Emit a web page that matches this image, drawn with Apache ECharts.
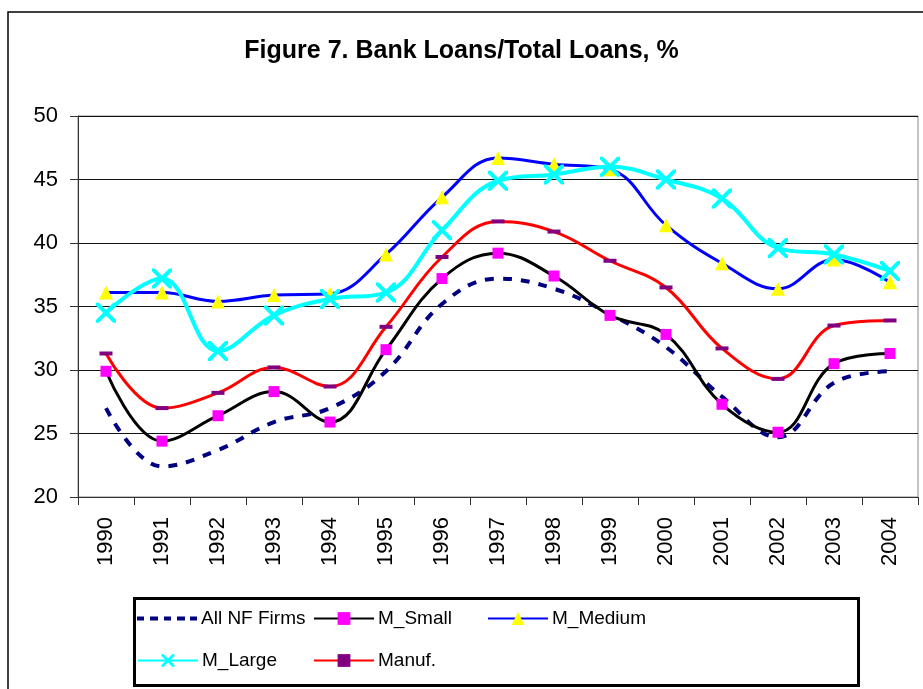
<!DOCTYPE html>
<html>
<head>
<meta charset="utf-8">
<script src="https://cdn.jsdelivr.net/npm/echarts@6/dist/echarts.min.js"></script>
<style>
  html, body { margin: 0; padding: 0; background: #fff; }
  #main { width: 923px; height: 689px; }
</style>
</head>
<body>
<div id="main"></div>
<script>
var years = ['1990','1991','1992','1993','1994','1995','1996','1997','1998','1999','2000','2001','2002','2003','2004'];
var allNF   = [27.0, 22.4, 23.7, 25.9, 27.0, 29.9, 35.2, 37.2, 36.4, 34.4, 31.8, 27.9, 24.7, 29.0, 29.9];
var mSmall  = [29.9, 24.4, 26.4, 28.3, 25.9, 31.6, 37.2, 39.2, 37.4, 34.3, 32.8, 27.3, 25.1, 30.5, 31.3];
var mMedium = [36.1, 36.1, 35.4, 35.9, 36.0, 39.1, 43.6, 46.7, 46.2, 45.8, 41.4, 38.4, 36.4, 38.7, 36.9];
var mLarge  = [34.5, 37.2, 31.5, 34.3, 35.6, 36.1, 41.0, 44.9, 45.4, 46.0, 45.0, 43.5, 39.6, 39.1, 37.8];
var manuf   = [31.3, 27.0, 28.2, 30.2, 28.7, 33.4, 38.9, 41.7, 40.9, 38.6, 36.5, 31.7, 29.3, 33.5, 33.9];

var FONT = '"Liberation Sans", Arial, sans-serif';
// X shaped marker for M_Large
var xSymbol = 'path://M0,0L1.4,0L10,8.6L10,10L8.6,10L0,1.4Z M8.6,0L10,0L10,1.4L1.4,10L0,10L0,8.6Z';
// dashed line icon for the legend of All NF Firms
var dashIcon = 'path://M0,0h7v4h-7z M13,0h8v4h-8z M27,0h7v4h-7z M40,0h8v4h-8z M53,0h7v4h-7z';

var myChart = echarts.init(document.getElementById('main'));

function legendAt(item, left, top, h) {
    return {
        data: [item],
        left: left,
        top: top,
        itemWidth: 60,
        itemHeight: h || 16,
        itemGap: 0,
        padding: 0,
        textStyle: { fontFamily: FONT, fontSize: 19, color: '#000', padding: [0, 0, 0, -1] }
    };
}

var option = {
    backgroundColor: '#fff',
    animation: false,
    title: {
        text: 'Figure 7. Bank Loans/Total Loans, %',
        left: 'center',
        top: 34,
        textStyle: { fontFamily: FONT, fontSize: 25, fontWeight: 'bold', color: '#000' }
    },
    legend: [
        legendAt({ name: 'All NF Firms', icon: dashIcon }, 137, 609, 4),
        legendAt('M_Small', 313, 609),
        legendAt('M_Medium', 487, 609),
        legendAt('M_Large', 137, 651),
        legendAt('Manuf.', 313, 651)
    ],
    grid: {
        left: 78, right: 5, top: 116, bottom: 192,
        show: true, borderColor: '#888', borderWidth: 1
    },
    xAxis: {
        type: 'category',
        data: years,
        boundaryGap: true,
        axisLine: { lineStyle: { color: '#333', width: 1 } },
        axisTick: { show: true, length: 8, lineStyle: { color: '#333' } },
        axisLabel: { rotate: 90, margin: 20, fontFamily: FONT, fontSize: 22, color: '#000' }
    },
    yAxis: {
        type: 'value',
        min: 20, max: 50, interval: 5,
        axisLine: { show: true, lineStyle: { color: '#333', width: 1 } },
        axisTick: { show: true, length: 8, lineStyle: { color: '#333' } },
        axisLabel: { margin: 20, fontFamily: FONT, fontSize: 22, color: '#000' },
        splitLine: { lineStyle: { color: '#111', width: 1 } }
    },
    graphic: [
        { type: 'rect', shape: { x: 8, y: 12, width: 940, height: 700 },
          style: { fill: 'none', stroke: '#000', lineWidth: 1.5 }, silent: true },
        { type: 'rect', shape: { x: 134.5, y: 598.5, width: 724, height: 87 },
          style: { fill: 'none', stroke: '#000', lineWidth: 3 }, silent: true }
    ],
    series: [
        {
            name: 'All NF Firms', type: 'line', data: allNF, smooth: 0.4,
            symbol: 'none',
            itemStyle: { color: '#000080' },
            lineStyle: { color: '#000080', width: 4, type: [9, 9] },
            z: 2
        },
        {
            name: 'M_Small', type: 'line', data: mSmall, smooth: 0.4,
            symbol: 'rect', symbolSize: 11,
            itemStyle: { color: '#FF00FF' },
            lineStyle: { color: '#000', width: 3 },
            z: 3
        },
        {
            name: 'M_Medium', type: 'line', data: mMedium, smooth: 0.4,
            symbol: 'triangle', symbolSize: 14,
            itemStyle: { color: '#FFFF00' },
            lineStyle: { color: '#0000FF', width: 3 },
            z: 3
        },
        {
            name: 'M_Large', type: 'line', data: mLarge, smooth: 0.4,
            symbol: xSymbol, symbolSize: 20,
            itemStyle: { color: '#00FFFF' },
            lineStyle: { color: '#00FFFF', width: 4 },
            z: 4
        },
        {
            name: 'Manuf.', type: 'line', data: manuf, smooth: 0.4,
            symbol: 'rect', symbolSize: [13, 4],
            itemStyle: { color: '#800080' },
            lineStyle: { color: '#FF0000', width: 3 },
            z: 3
        }
    ]
};
myChart.setOption(option);
</script>
</body>
</html>
